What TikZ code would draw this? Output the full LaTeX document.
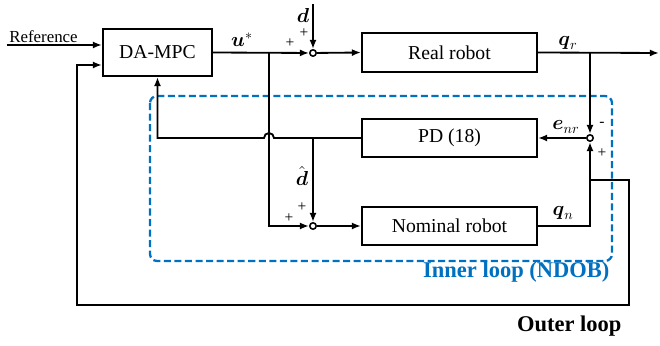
\documentclass[tikz,border=0pt]{standalone}
\usepackage{amsmath}
\usepackage{fontspec}
\setmainfont{Liberation Serif}
\usepackage{tikz}
\usetikzlibrary{calc,arrows.meta}
\definecolor{loopblue}{RGB}{0,112,192}

\begin{document}
\begin{tikzpicture}[x=0.025cm, y=-0.025cm, >={Latex[length=6.5pt,width=5pt]},
  line width=1.3pt,
  block/.style={draw, line width=1.4pt, minimum width=4.375cm, minimum height=0.97cm,
    inner sep=0pt, font=\fontsize{14}{16}\selectfont},
  sumpt/.style={draw, circle, inner sep=0pt, minimum size=0.16cm, line width=1.1pt, fill=white},
  sgn/.style={font=\fontsize{11}{12}\selectfont, inner sep=0pt},
  sig/.style={font=\fontsize{14}{16}\selectfont, inner sep=0pt}]
  \useasboundingbox (0,0) rectangle (660,346);
  % ------- blocks -------
  \node[block, minimum width=2.725cm, minimum height=1.175cm] (mpc) at (157.5,52.5) {DA-MPC};
  \node[block] (real) at (449.5,52.5) {Real robot};
  \node[block] (pd) at (449.5,138) {PD (18)};
  \node[block] (nom) at (449.5,226) {Nominal robot};
  \node[sumpt] (sum1) at (313,53) {};
  \node[sumpt] (sum2) at (590,138) {};
  \node[sumpt] (sum3) at (313,226) {};
  % ------- branch points -------
  \coordinate (ref) at (7,45);
  \coordinate (dtop) at (313,4);
  \coordinate (ub) at (269,53);
  \coordinate (hop) at (269,138);
  \coordinate (dh) at (313,138);
  \coordinate (qrb) at (590,53);
  \coordinate (out) at (659,53);
  \coordinate (qnb) at (590,180);
  \coordinate (fbr) at (629,305);
  \coordinate (fbl) at (77,305);
  \coordinate (fbin) at (77,65);
  % ------- inner loop frame -------
  \draw[loopblue, line width=1.6pt, dash pattern=on 5pt off 2.5pt, rounded corners=5pt]
    (150,96) rectangle (612,261);
  % ------- forward path -------
  \node[anchor=south west, inner sep=1pt, font=\fontsize{12}{13}\selectfont] at (ref) {Reference};
  \draw[->] (ref) -- (ref -| mpc.west);
  \draw[->] (mpc.east) -- (sum1);
  \draw[->] (dtop) -- (sum1);
  \draw[->] (sum1) -- (real.west);
  \draw[->] (real.east) -- (out);
  \node[sig] at (242,40) {$\boldsymbol{u}^{*}$};
  \node[sig] at (303,15) {$\boldsymbol{d}$};
  \node[sig] at (568,43) {$\boldsymbol{q}_{r}$};
  \node[sgn] at (304,33) {+};
  \node[sgn] at (290,43) {+};
  % ------- observer -------
  \draw[->] (qrb) -- (sum2);
  \draw[->] (sum2) -- (pd.east);
  \draw[->] (pd.west) -- ($(hop)+(5,0)$) arc[start angle=0, end angle=180, radius=0.125cm]
    -- (mpc.south |- pd.west) -- (mpc.south);
  \draw[->] (ub) -- (ub |- sum3) -- (sum3);
  \draw[->] (dh) -- (sum3);
  \draw[->] (sum3) -- (nom.west);
  \draw[->] (nom.east) -- (nom.east -| sum2) -- (sum2);
  \node[sig] at (566,127) {$\boldsymbol{e}_{nr}$};
  \node[sig] at (302,176) {$\hat{\boldsymbol{d}}$};
  \node[sig] at (563,213) {$\boldsymbol{q}_{n}$};
  \node[sgn] at (602,124) {-};
  \node[sgn] at (602,153) {+};
  \node[sgn] at (302,207) {+};
  \node[sgn] at (289,218) {+};
  % ------- outer loop -------
  \draw[->] (qnb) -- (qnb -| fbr) -- (fbr) -- (fbl) -- (fbin) -- (fbin -| mpc.west);
  \node[anchor=east, text=loopblue, font=\fontsize{16}{18}\selectfont\bfseries] at (615,272)
    {Inner loop (NDOB)};
  \node[anchor=east, font=\fontsize{16}{18}\selectfont\bfseries] at (627,326) {Outer loop};
\end{tikzpicture}
\end{document}
